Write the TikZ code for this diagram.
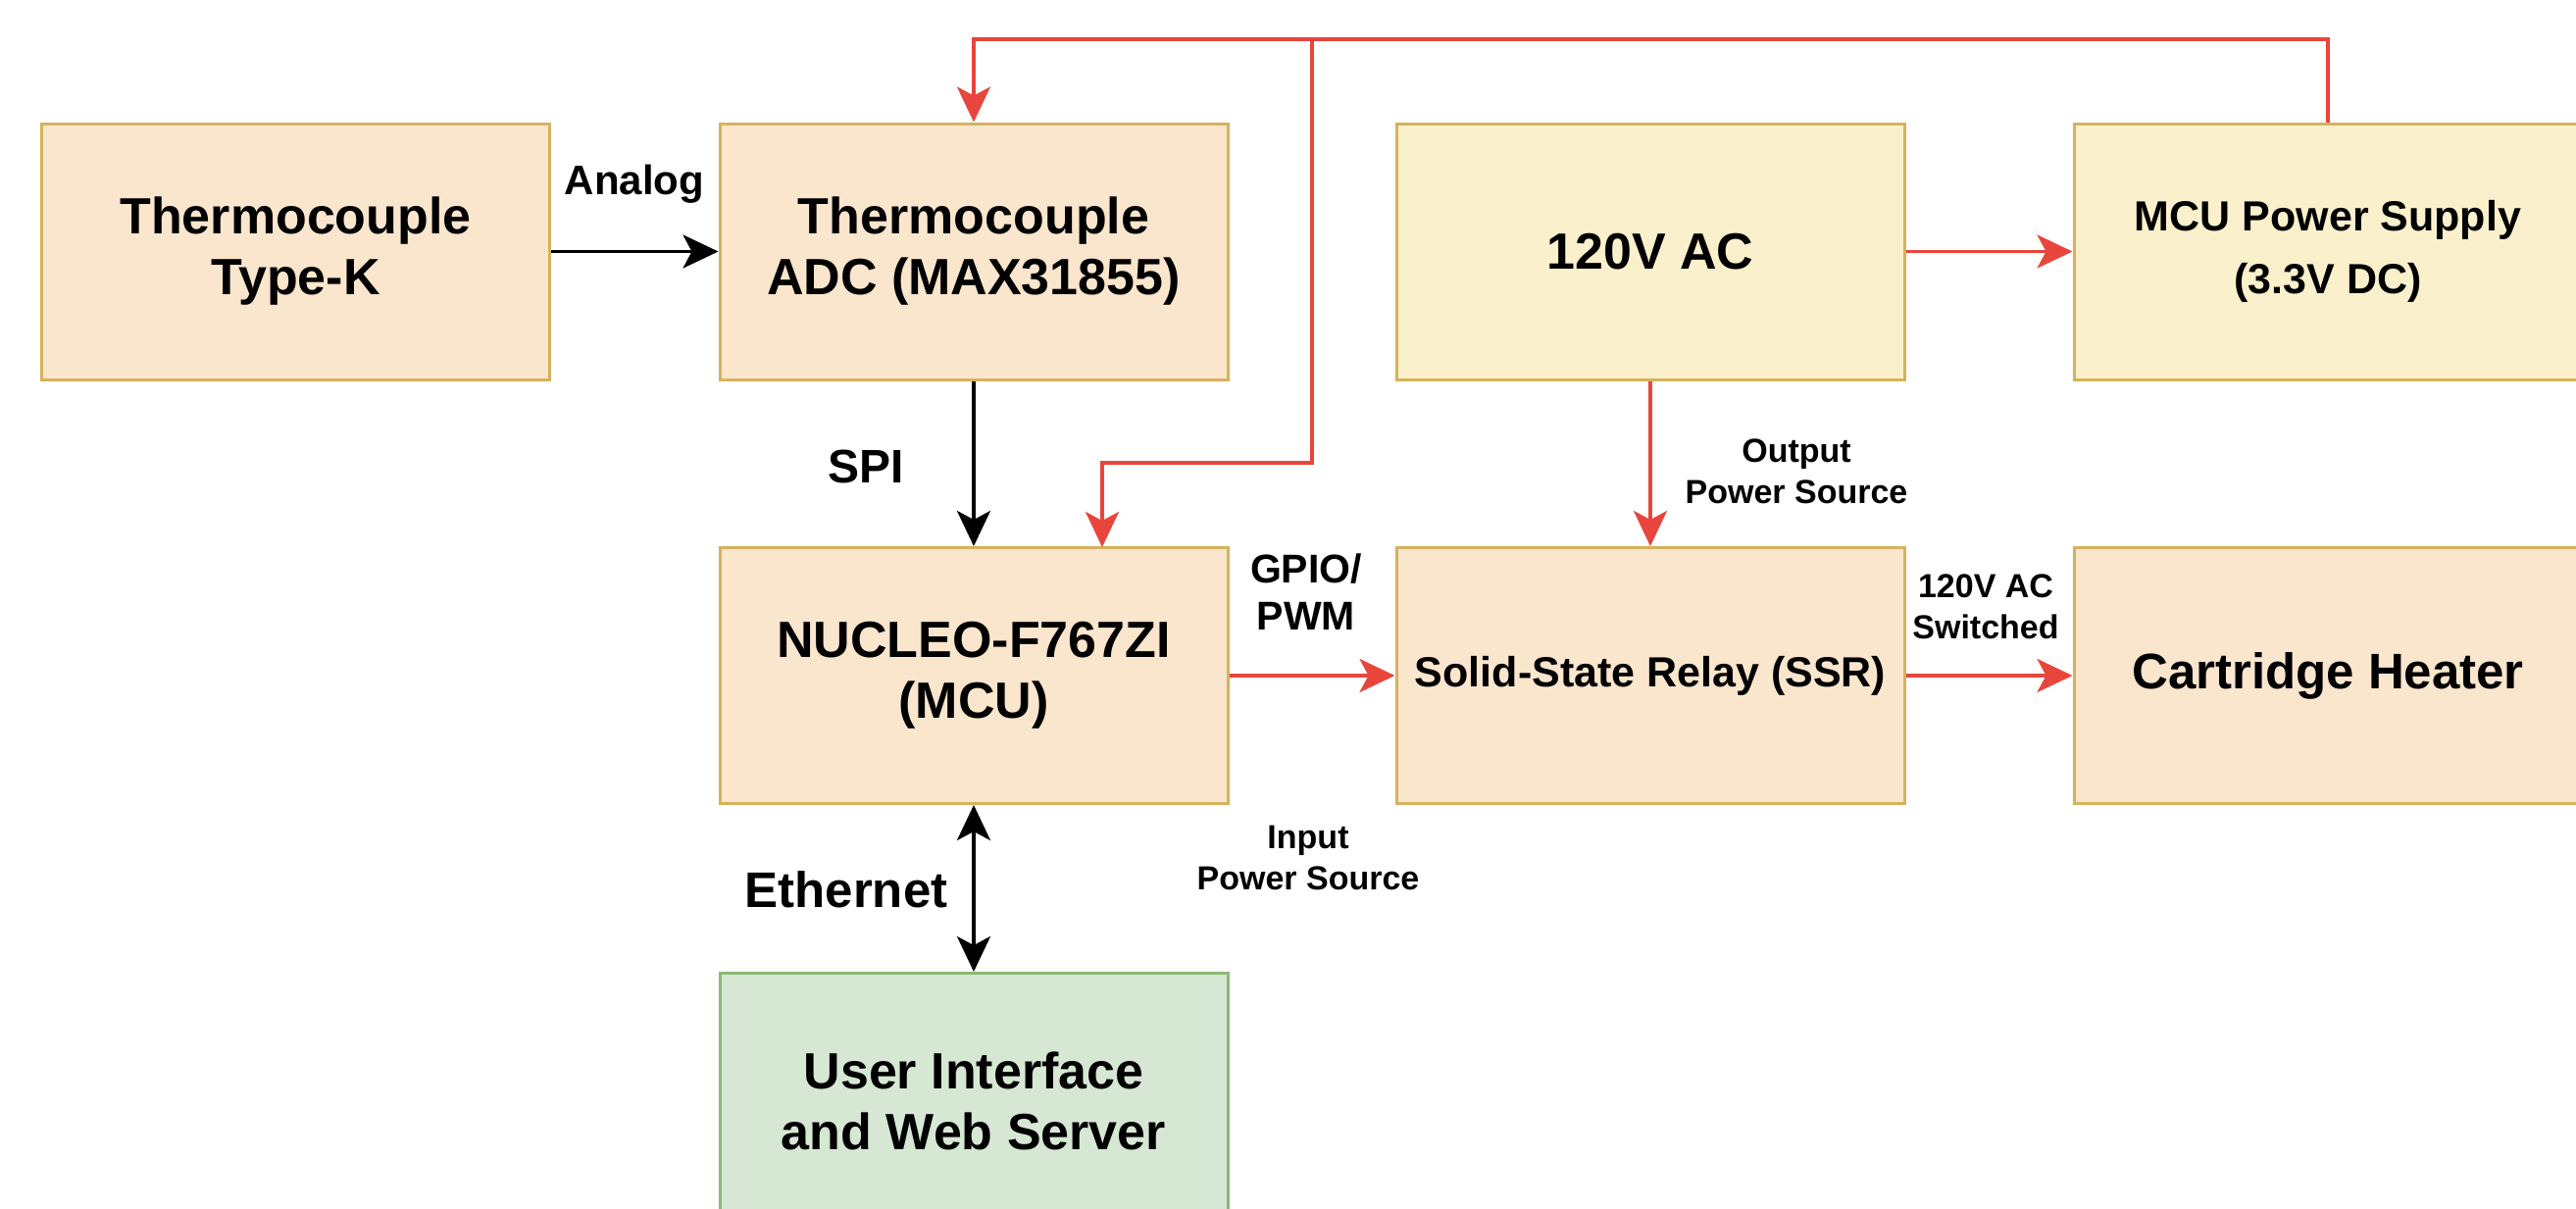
\documentclass[tikz,border=0pt]{standalone}
\usepackage{fontspec}
\setmainfont{Liberation Sans}
\usetikzlibrary{arrows.meta}
\definecolor{peach}{RGB}{250,229,205}
\definecolor{cream}{RGB}{251,240,204}
\definecolor{mint}{RGB}{214,232,212}
\definecolor{boxline}{RGB}{214,178,92}
\definecolor{greenline}{RGB}{140,184,120}
\definecolor{wire}{RGB}{232,70,60}
\begin{document}
\begin{tikzpicture}[x=1pt,y=-1pt,
  box/.style={draw=boxline, line width=3pt, minimum width=518pt, minimum height=261pt,
    inner sep=0pt, align=center, font=\fontsize{52}{62}\selectfont\bfseries},
  smallbox/.style={box, font=\fontsize{43}{64}\selectfont\bfseries},
  lbl/.style={align=center, inner sep=0pt},
  tip/.style={Stealth[length=36pt,width=34pt,inset=9pt]},
  blk/.style={line width=3.5pt, -{Stealth[length=36pt,width=34pt,inset=9pt]}},
  redw/.style={draw=wire, line width=3.5pt},
  reda/.style={redw, -{Stealth[length=36pt,width=34pt,inset=9pt]}}
]
\useasboundingbox (0,0) rectangle (2627,1232);
\fill[white] (0,0) rectangle (2627,1232);
\clip (0,0) rectangle (2627,1232);

% boxes
\node[box, fill=peach] (tc) at (301.5,256.5) {Thermocouple\\Type-K};
\node[box, fill=peach] (adc) at (993,256.5) {Thermocouple\\ADC (MAX31855)};
\node[box, fill=cream] (ac) at (1683,256.5) {120V AC};
\node[smallbox, fill=cream] (ps) at (2374,256.5) {MCU Power Supply\\(3.3V DC)};
\node[box, fill=peach] (nuc) at (993,689) {NUCLEO-F767ZI\\(MCU)};
\node[box, fill=peach, font=\fontsize{43}{52}\selectfont\bfseries] (ssr) at (1683,689) {Solid-State Relay (SSR)};
\node[box, fill=peach, font=\fontsize{51}{62}\selectfont\bfseries] (heat) at (2374,689) {Cartridge Heater};
\node[box, fill=mint, draw=greenline] (ui) at (993,1123) {User Interface\\and Web Server};

% coordinates for the red supply network
\coordinate (topl) at (993,40);
\coordinate (topm) at (1338,40);
\coordinate (midm) at (1338,472);
\coordinate (nucin) at (1124,558);

% black connectors
\draw[blk] (tc) -- (adc);
\draw[blk] (adc) -- (nuc);
\draw[line width=3.5pt, {Stealth[length=36pt,width=34pt,inset=9pt]}-{Stealth[length=36pt,width=34pt,inset=9pt]}] (nuc) -- (ui);

% red connectors
\draw[reda] (ps.north) |- (topl) -- (adc.north);
\draw[reda] (topm) -- (midm) -| (nucin);
\draw[reda] (ac) -- (ps);
\draw[reda] (ac) -- (ssr);
\draw[reda] (nuc) -- (ssr);
\draw[reda] (ssr) -- (heat);

% labels
\node[lbl, font=\fontsize{42}{48}\selectfont\bfseries] (lanalog) at (647,188) {Analog};
\node[lbl, font=\fontsize{48}{56}\selectfont\bfseries] (lspi) at (883,476) {SPI};
\node[lbl, font=\fontsize{34}{42}\selectfont\bfseries] (lout) at (1832,481) {Output\\Power Source};
\node[lbl, font=\fontsize{41}{48}\selectfont\bfseries] (lgpio) at (1332,604) {GPIO/\\PWM};
\node[lbl, font=\fontsize{34}{42}\selectfont\bfseries] (lsw) at (2025,619) {120V AC\\Switched};
\node[lbl, font=\fontsize{34}{42}\selectfont\bfseries] (lin) at (1334,875) {Input\\Power Source};
\node[lbl, font=\fontsize{51}{60}\selectfont\bfseries] (leth) at (863,907) {Ethernet};
\end{tikzpicture}
\end{document}
